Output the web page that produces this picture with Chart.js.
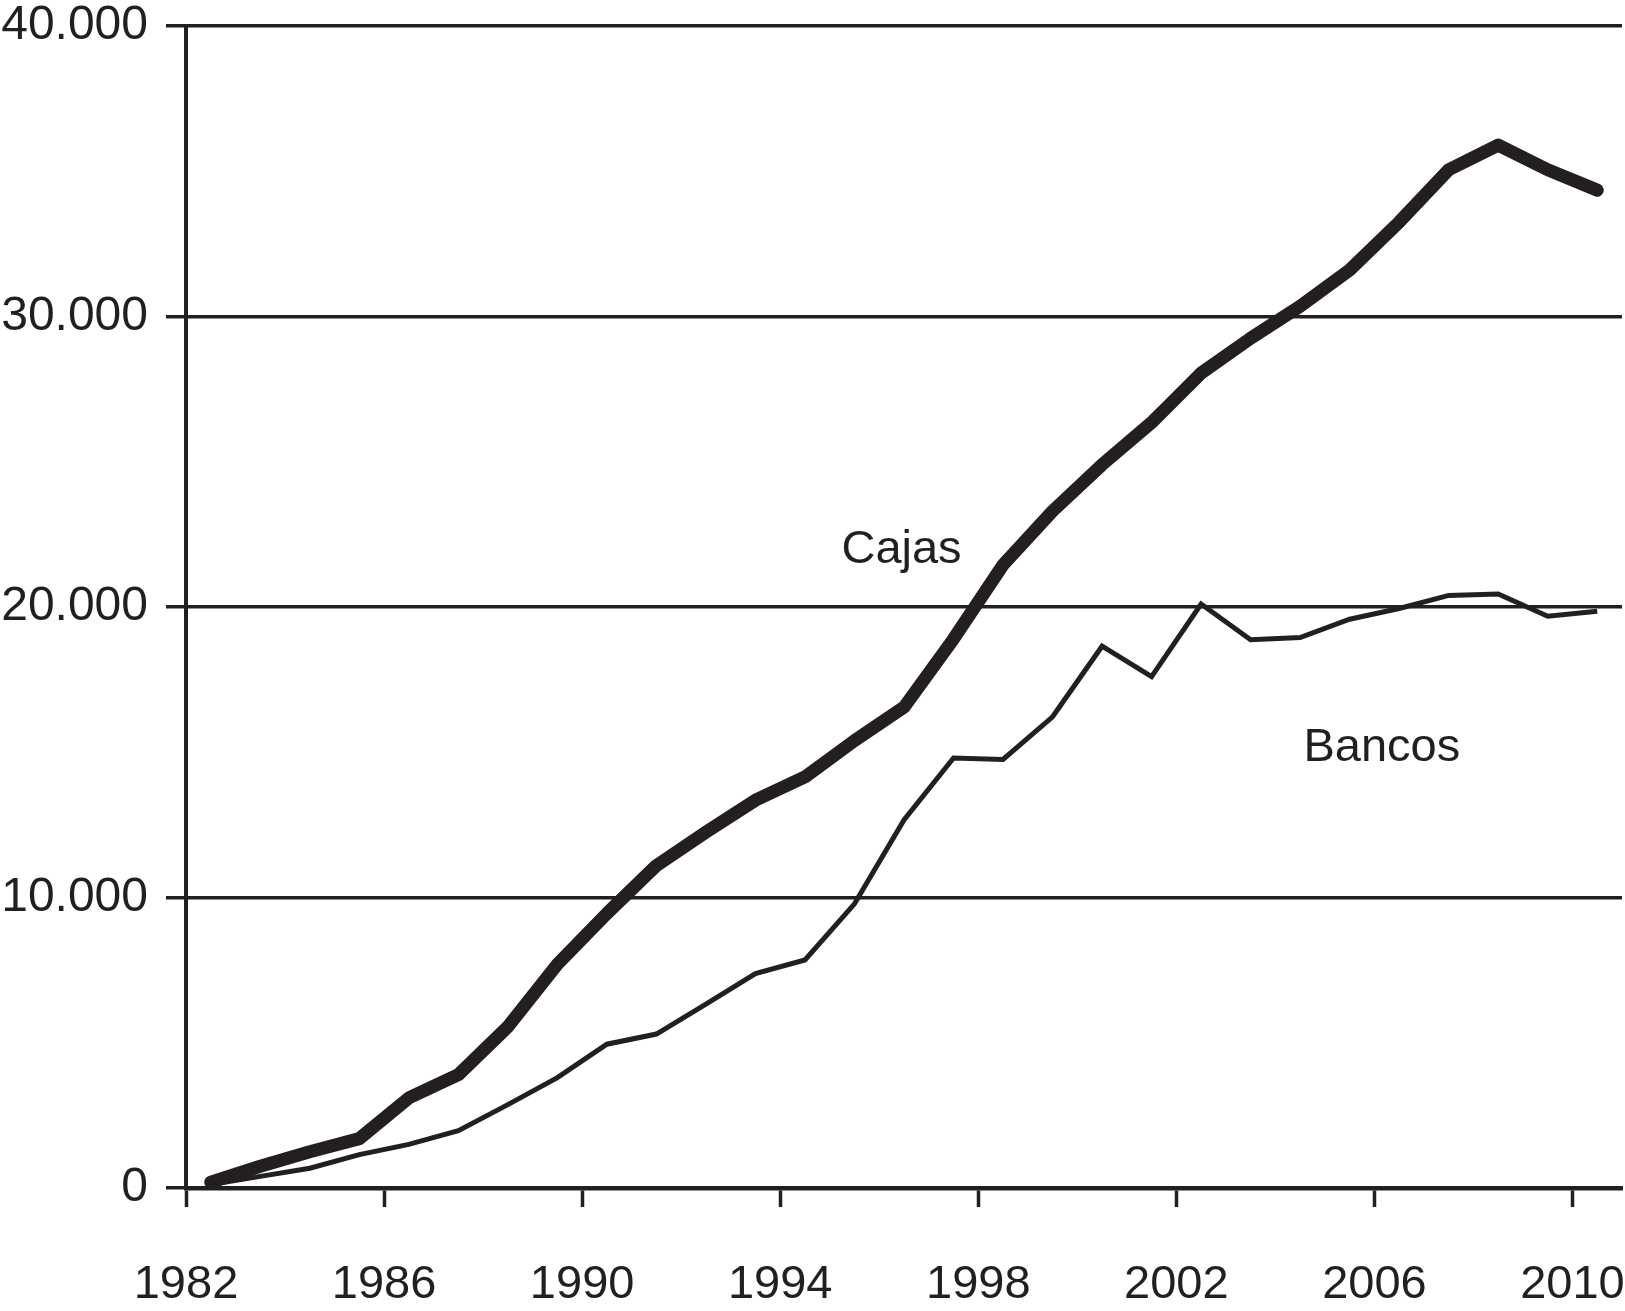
<!DOCTYPE html>
<html lang="es">
<head>
    <title>Cajas y Bancos</title>
    <meta charset="utf-8">
    <script src="https://cdn.jsdelivr.net/npm/chart.js@4.4.0/dist/chart.umd.min.js"></script>
    <style>
        html, body { margin: 0; padding: 0; background: #ffffff; overflow: hidden; }
        canvas { display: block; }
    </style>
</head>
<body>
<canvas id="lineas" width="1625" height="1311"></canvas>

<script>
    // years 1982..2010, one value per year
    const years = [1982, 1983, 1984, 1985, 1986, 1987, 1988, 1989, 1990, 1991,
                   1992, 1993, 1994, 1995, 1996, 1997, 1998, 1999, 2000, 2001,
                   2002, 2003, 2004, 2005, 2006, 2007, 2008, 2009, 2010];

    const cajas = [200, 750, 1250, 1700, 3100, 3900, 5550, 7700, 9450, 11100,
                   12250, 13350, 14150, 15400, 16550, 18900, 21450, 23300, 24900, 26350,
                   28050, 29250, 30350, 31600, 33250, 35050, 35900, 35050, 34350];

    const bancos = [120, 400, 680, 1150, 1500, 1970, 2870, 3800, 4950, 5300,
                    6330, 7380, 7850, 9780, 12670, 14800, 14750, 16220, 18650, 17600,
                    20100, 18870, 18950, 19580, 19950, 20400, 20450, 19680, 19850];

    const xTicks = [1982, 1986, 1990, 1994, 1998, 2002, 2006, 2010];
    const yTicks = [0, 10000, 20000, 30000, 40000];
    const yTickLabels = ['0', '10.000', '20.000', '30.000', '40.000'];

    // text labels next to the lines, placed in data units
    const seriesNames = ['Cajas', 'Bancos'];
    const namePositions = [[1996.45, 21950], [2006.15, 15150]];

    const ink = '#231f20';
    const fontFamily = '"Liberation Sans", Arial, Helvetica, sans-serif';

    // points sit in the middle of each year
    const toPoints = (vals) => vals.map((v, i) => ({ x: years[i] + 0.5, y: v }));

    const nameLabels = {
        id: 'nameLabels',
        afterDatasetsDraw(chart) {
            const ctx = chart.ctx;
            const xs = chart.scales.x;
            const ys = chart.scales.y;
            ctx.save();
            ctx.fillStyle = ink;
            ctx.font = '47px ' + fontFamily;
            ctx.textAlign = 'center';
            ctx.textBaseline = 'middle';
            seriesNames.forEach((name, i) => {
                const p = namePositions[i];
                ctx.fillText(name, xs.getPixelForValue(p[0]), ys.getPixelForValue(p[1]));
            });
            ctx.restore();
        }
    };

    const ctx = document.getElementById('lineas').getContext('2d');

    const chart = new Chart(ctx, {
        type: 'line',
        data: {
            datasets: [
                {
                    label: 'Cajas',
                    data: toPoints(cajas),
                    borderColor: ink,
                    borderWidth: 13,
                    borderCapStyle: 'round',
                    borderJoinStyle: 'round',
                    pointRadius: 0,
                    tension: 0
                },
                {
                    label: 'Bancos',
                    data: toPoints(bancos),
                    borderColor: ink,
                    borderWidth: 5,
                    borderCapStyle: 'butt',
                    borderJoinStyle: 'miter',
                    pointRadius: 0,
                    tension: 0
                }
            ]
        },
        options: {
            responsive: false,
            animation: false,
            devicePixelRatio: 1,
            layout: {
                padding: { top: 26, right: 3, bottom: 0, left: 0 }
            },
            plugins: {
                legend: { display: false },
                tooltip: { enabled: false }
            },
            scales: {
                x: {
                    type: 'linear',
                    min: 1982,
                    max: 2011,
                    afterBuildTicks: (scale) => {
                        scale.ticks = xTicks.map(v => ({ value: v }));
                    },
                    afterFit: (scale) => {
                        scale.height = 123;
                        scale.paddingLeft = 0;
                        scale.paddingRight = 0;
                    },
                    border: { color: ink, width: 4.5 },
                    grid: {
                        drawOnChartArea: false,
                        drawTicks: true,
                        tickLength: 19,
                        tickWidth: 3.5,
                        tickColor: ink
                    },
                    ticks: {
                        color: ink,
                        padding: 50,
                        maxRotation: 0,
                        autoSkip: false,
                        font: { family: fontFamily, size: 47 },
                        callback: (value) => String(value)
                    }
                },
                y: {
                    min: 0,
                    max: 40000,
                    afterBuildTicks: (scale) => {
                        scale.ticks = yTicks.map(v => ({ value: v }));
                    },
                    afterFit: (scale) => {
                        scale.width = 186;
                        scale.paddingTop = 0;
                        scale.paddingBottom = 0;
                    },
                    border: { color: ink, width: 4 },
                    grid: {
                        color: ink,
                        lineWidth: 3.5,
                        drawTicks: true,
                        tickLength: 20,
                        tickWidth: 3.5,
                        tickColor: ink
                    },
                    ticks: {
                        color: ink,
                        padding: 18,
                        font: { family: fontFamily, size: 48, lineHeight: 1 },
                        callback: (value, index) => yTickLabels[index]
                    }
                }
            }
        },
        plugins: [nameLabels]
    });
</script>
</body>
</html>
